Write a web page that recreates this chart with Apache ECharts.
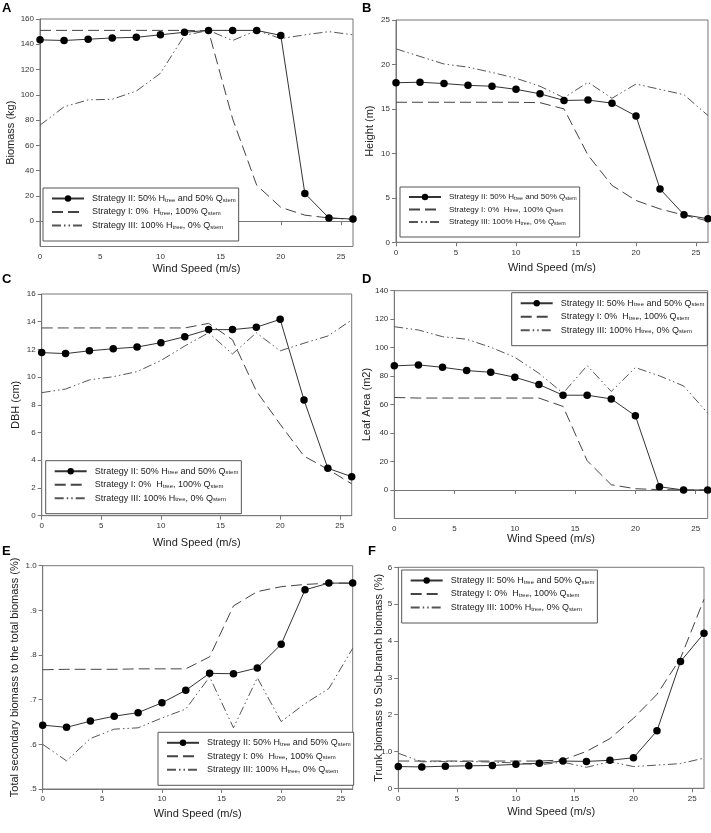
<!DOCTYPE html>
<html>
<head>
<meta charset="utf-8">
<script src="https://cdn.jsdelivr.net/npm/echarts@6/dist/echarts.min.js"></script>
<style>
html,body{margin:0;padding:0;background:#fff;}
#chart{width:711px;height:833px;}
</style>
</head>
<body>
<div id="chart"></div>
<script>
// ---- data ----
const windSpeed = [0, 2, 4, 6, 8, 10, 12, 14, 16, 18, 20, 22, 24, 26];
const xTicks = [0, 5, 10, 15, 20, 25];

const seriesNames = [
  'Strategy II: 50% Htree and 50% Qstem',
  'Strategy I: 0%  Htree, 100% Qstem',
  'Strategy III: 100% Htree, 0% Qstem'
];

// A: Biomass (kg)
const biomassII  = [143.5, 143, 144, 145, 145.5, 147.5, 149.5, 151, 151, 151, 147, 22, 2.6, 1.7];
const biomassI   = [151, 151, 151, 151, 151, 151, 151, 150.5, 81, 28.5, 11, 4.8, 2.6, 1.5];
const biomassIII = [76, 90.5, 96, 96.5, 103, 117, 147, 151, 143, 151, 144.5, 147.5, 150, 147.5];
const biomassTicks = [0, 20, 40, 60, 80, 100, 120, 140, 160];

// B: Height (m)
const heightII  = [17.95, 18.0, 17.85, 17.65, 17.55, 17.2, 16.7, 15.95, 16.0, 15.65, 14.2, 6.0, 3.1, 2.65];
const heightI   = [15.75, 15.75, 15.75, 15.75, 15.75, 15.75, 15.7, 15.0, 9.8, 6.4, 4.7, 3.75, 3.05, 2.4];
const heightIII = [21.75, 20.9, 20.05, 19.7, 19.1, 18.45, 17.55, 16.25, 18.0, 16.2, 17.8, 17.2, 16.6, 14.25];
const heightTicks = [0, 5, 10, 15, 20, 25];

// C: DBH (cm)
const dbhII  = [11.77, 11.7, 11.9, 12.05, 12.17, 12.49, 12.92, 13.43, 13.43, 13.6, 14.17, 8.35, 3.42, 2.82];
const dbhI   = [13.55, 13.55, 13.55, 13.55, 13.55, 13.55, 13.55, 13.88, 12.7, 9.0, 6.6, 4.3, 3.35, 2.3];
const dbhIII = [8.88, 9.14, 9.8, 10.03, 10.4, 11.2, 12.25, 13.2, 11.67, 13.2, 11.9, 12.45, 12.97, 14.12];
const dbhTicks = [0, 2, 4, 6, 8, 10, 12, 14, 16];

// D: Leaf Area (m2)
const leafII  = [87.2, 87.9, 86.2, 83.9, 82.7, 79.2, 74.1, 66.6, 66.6, 64.0, 52.1, 2.3, 0, 0];
const leafI   = [65, 64.6, 64.6, 64.6, 64.6, 64.6, 64.6, 58.7, 20.6, 3.7, 0.9, 0.3, 0, 0];
const leafIII = [114.7, 112.4, 107.7, 105.9, 100.3, 93.2, 82, 68, 87.4, 69.2, 86, 80.2, 73.1, 54];
const leafTicks = [0, 20, 40, 60, 80, 100, 120, 140];

// E: Total secondary biomass to the total biomass (%)
const secII  = [0.643, 0.638, 0.652, 0.663, 0.671, 0.693, 0.721, 0.759, 0.758, 0.771, 0.824, 0.946, 0.961, 0.961];
const secI   = [0.767, 0.768, 0.768, 0.768, 0.769, 0.769, 0.769, 0.796, 0.91, 0.942, 0.953, 0.958, 0.961, 0.961];
const secIII = [0.6, 0.563, 0.613, 0.634, 0.637, 0.659, 0.679, 0.751, 0.637, 0.749, 0.651, 0.691, 0.725, 0.815];
const secTicks = [0.5, 0.6, 0.7, 0.8, 0.9, 1.0];

// F: Trunk biomass to Sub-branch biomass (%)
const trunkII  = [0.59, 0.58, 0.6, 0.61, 0.62, 0.65, 0.68, 0.74, 0.73, 0.76, 0.83, 1.56, 3.44, 4.21];
const trunkI   = [0.74, 0.74, 0.74, 0.74, 0.74, 0.74, 0.74, 0.77, 1.0, 1.35, 1.9, 2.55, 3.53, 5.13];
const trunkIII = [0.95, 0.72, 0.73, 0.73, 0.71, 0.69, 0.64, 0.71, 0.57, 0.72, 0.59, 0.63, 0.67, 0.82];
const trunkTicks = [0, 1, 2, 3, 4, 5, 6];

// ---- layout ----
const FONT = 'Liberation Sans, Arial, sans-serif';
const panels = [
  {letter:'A', lx:2, ly:2, grid:{left:40, top:19, width:313, height:227.5}, ymin:-20, ymax:160, ticks:biomassTicks,
   yname:'Biomass (kg)', ygap:24, xgap:17, data:[biomassII, biomassI, biomassIII],
   legend:{left:43, top:188, fs:9}},
  {letter:'B', lx:362, ly:2, grid:{left:396, top:20, width:312, height:222.3}, ymin:0, ymax:25, ticks:heightTicks,
   yname:'Height (m)', ygap:20.5, xgap:20.5, data:[heightII, heightI, heightIII],
   legend:{left:400, top:187, fs:8}},
  {letter:'C', lx:2, ly:273, grid:{left:41.7, top:294, width:310, height:221.7}, ymin:0, ymax:16, ticks:dbhTicks,
   yname:'DBH (cm)', ygap:20.5, xgap:21.5, data:[dbhII, dbhI, dbhIII],
   legend:{left:45.7, top:460.7, fs:9}},
  {letter:'D', lx:362, ly:273, grid:{left:394.3, top:290.7, width:313.4, height:227.8}, ymin:-20, ymax:140, ticks:leafTicks,
   yname:'Leaf Area (m2)', ygap:22, xgap:14.5, data:[leafII, leafI, leafIII],
   legend:{left:511.7, top:292.7, fs:9}},
  {letter:'E', lx:2, ly:545, grid:{left:42.7, top:565.7, width:310, height:223.3}, ymin:0.5, ymax:1.0, ticks:secTicks,
   yname:'Total secondary biomass to the total biomass (%)', ygap:22, xgap:19.5, data:[secII, secI, secIII],
   legend:{left:158, top:732.3, fs:9}},
  {letter:'F', lx:368, ly:545, grid:{left:398.3, top:567.3, width:305.7, height:221}, ymin:0, ymax:6, ticks:trunkTicks,
   yname:'Trunk biomass to Sub-branch biomass (%)', ygap:13.5, xgap:18.5, data:[trunkII, trunkI, trunkIII],
   legend:{left:401.7, top:570, fs:9}}
];

const lineStyles = [
  {color:'#333', width:1, type:'solid'},
  {color:'#444', width:1, type:[11, 5]},
  {color:'#555', width:1, type:[9, 3, 1.5, 3, 1.5, 3]}
];

function fmtLegend(name) {
  return name.replace('Htree', 'H{s|tree}').replace('Qstem', 'Q{s|stem}');
}
function yLabel(v) {
  if (v > 0.99 && v < 1.01) return '1.0';
  if (v < 1 && v > 0) return String(Math.round(v * 10) / 10).replace(/^0/, '');
  return String(v);
}

const hiddenSym = {color:'rgba(0,0,0,0)', borderWidth:0, opacity:0};
const grids = [], xAxes = [], yAxes = [], series = [], legends = [], graphics = [];
panels.forEach((p, i) => {
  grids.push(Object.assign({show:true, borderColor:'#777', borderWidth:1, backgroundColor:'transparent'}, p.grid));
  xAxes.push({
    type:'value', gridIndex:i, min:0, max:26,
    name:'Wind Speed (m/s)', nameLocation:'middle', nameGap:p.xgap, nameMoveOverlap:false,
    nameTextStyle:{fontSize:11, color:'#222', fontFamily:FONT},
    axisLine:{show:true, lineStyle:{color:'#777'}},
    axisTick:{show:true, length:4, inside:false, customValues:xTicks, lineStyle:{color:'#777'}},
    axisLabel:{fontSize:8, color:'#333', margin:6, fontFamily:FONT, customValues:xTicks},
    splitLine:{show:false}
  });
  yAxes.push({
    type:'value', gridIndex:i, min:p.ymin, max:p.ymax,
    name:p.yname, nameLocation:'middle', nameGap:p.ygap, nameMoveOverlap:false,
    nameTextStyle:{fontSize:11, color:'#222', fontFamily:FONT},
    axisLine:{show:true, lineStyle:{color:'#777'}},
    axisTick:{show:true, length:4, inside:false, customValues:p.ticks, lineStyle:{color:'#777'}},
    axisLabel:{fontSize:8, color:'#333', margin:6, fontFamily:FONT, customValues:p.ticks, formatter:yLabel},
    splitLine:{show:false}
  });
  p.data.forEach((arr, k) => {
    series.push({
      type:'line', name:seriesNames[k], xAxisIndex:i, yAxisIndex:i,
      data:windSpeed.map((x, j) => [x, arr[j]]),
      symbol: k === 0 ? 'circle' : 'none',
      symbolSize:7.5,
      itemStyle:{color:'#000'},
      lineStyle:lineStyles[k],
      z: k === 0 ? 3 : 2,
      animation:false
    });
  });
  const fs = p.legend.fs;
  legends.push({
    left:p.legend.left, top:p.legend.top, orient:'vertical',
    itemWidth:32, itemHeight:8, itemGap:4.5,
    padding:[6, 3, 11, 8],
    borderColor:'#555', borderWidth:1, backgroundColor:'#fff',
    selectedMode:false,
    data:[
      {name:seriesNames[0]},
      {name:seriesNames[1], itemStyle:hiddenSym},
      {name:seriesNames[2], itemStyle:hiddenSym}
    ],
    formatter:fmtLegend,
    textStyle:{fontSize:fs, color:'#222', fontFamily:FONT, padding:[0,0,0,3],
      rich:{s:{fontSize:fs*0.66, color:'#222', fontFamily:FONT, verticalAlign:'bottom', lineHeight:fs*0.66, padding:[3,0,0,0]}}}
  });
  graphics.push({type:'text', left:p.lx, top:p.ly, style:{text:p.letter, font:'bold 13px ' + FONT, fill:'#000'}});
});

const chart = echarts.init(document.getElementById('chart'), null, {renderer:'canvas'});
chart.setOption({
  animation:false,
  backgroundColor:'#fff',
  grid:grids, xAxis:xAxes, yAxis:yAxes, series:series, legend:legends, graphic:graphics
});
</script>
</body>
</html>
